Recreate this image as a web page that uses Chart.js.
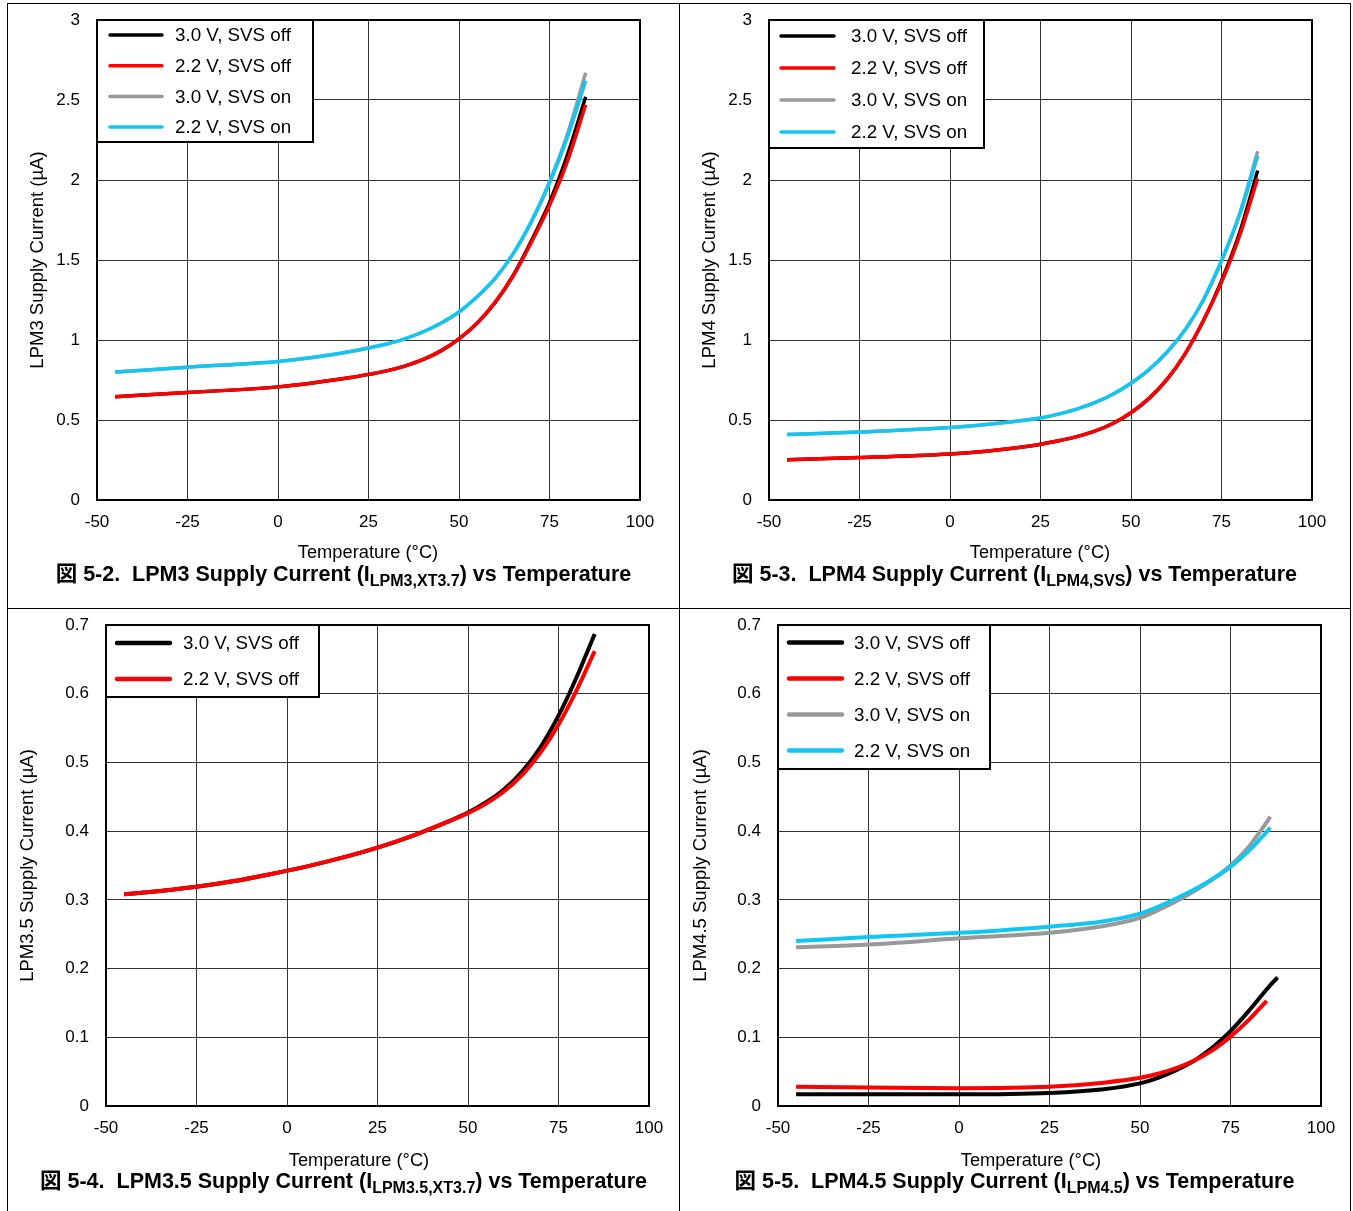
<!DOCTYPE html>
<html>
<head>
<meta charset="utf-8">
<script src="https://cdn.jsdelivr.net/npm/chart.js@4"></script>
<style>
  body { margin: 0; background: #fff; width: 1353px; height: 1211px; position: relative; overflow: hidden;
         font-family: "Liberation Sans", Arial, "Noto Sans CJK JP", sans-serif; }
  .rule { position: absolute; background: #000; }
  canvas { position: absolute; }
  .xt { position: absolute; font-size: 18.3px; transform: translate(-50%, -50%); white-space: nowrap; color: #000; }
  .cap { position: absolute; text-align: center; font-weight: bold; font-size: 21.5px; white-space: nowrap; color: #000; }
  .cap sub { font-size: 16px; vertical-align: -5px; line-height: 0; }
</style>
</head>
<body>
<div class="rule" style="left:7px;top:3px;width:1344px;height:1px"></div>
<div class="rule" style="left:7px;top:608px;width:1344px;height:1px"></div>
<div class="rule" style="left:7px;top:3px;width:1px;height:1208px"></div>
<div class="rule" style="left:679px;top:3px;width:1px;height:1208px"></div>
<div class="rule" style="left:1350px;top:3px;width:1px;height:1208px"></div>

<canvas id="c1"></canvas>
<canvas id="c2"></canvas>
<canvas id="c3"></canvas>
<canvas id="c4"></canvas>

<div class="xt" style="left:368px;top:552px">Temperature (°C)</div>
<div class="xt" style="left:1040px;top:552px">Temperature (°C)</div>
<div class="xt" style="left:359px;top:1160px">Temperature (°C)</div>
<div class="xt" style="left:1031px;top:1160px">Temperature (°C)</div>

<div class="cap" style="left:8px;width:671px;top:556px">図 5-2.&nbsp; LPM3 Supply Current (I<sub>LPM3,XT3.7</sub>) vs Temperature</div>
<div class="cap" style="left:679px;width:671px;top:556px">図 5-3.&nbsp; LPM4 Supply Current (I<sub>LPM4,SVS</sub>) vs Temperature</div>
<div class="cap" style="left:8px;width:671px;top:1163px">図 5-4.&nbsp; LPM3.5 Supply Current (I<sub>LPM3.5,XT3.7</sub>) vs Temperature</div>
<div class="cap" style="left:679px;width:671px;top:1163px">図 5-5.&nbsp; LPM4.5 Supply Current (I<sub>LPM4.5</sub>) vs Temperature</div>

<script>
// ===== Data =====
const seriesNames = ['3.0 V, SVS off', '2.2 V, SVS off', '3.0 V, SVS on', '2.2 V, SVS on'];
const seriesColors = ['#000000', '#ff0000', '#999999', '#12c6f3'];

const xTicks = [-50, -25, 0, 25, 50, 75, 100];

// LPM3 (fig 5-2) and LPM4 (fig 5-3)
const temps = [-45, -25, 0, 10, 20, 25, 30, 35, 40, 45, 50, 55, 60, 65, 70, 75, 80, 85];
const lpm3Off30 = [0.645, 0.672, 0.707, 0.733, 0.765, 0.785, 0.807, 0.837, 0.877, 0.932, 1.007, 1.105, 1.235, 1.405, 1.62, 1.86, 2.16, 2.52];
const lpm3Off22 = [0.645, 0.672, 0.707, 0.733, 0.765, 0.785, 0.807, 0.837, 0.877, 0.932, 1.007, 1.105, 1.235, 1.40, 1.61, 1.84, 2.12, 2.47];
const lpm3On30  = [0.80, 0.83, 0.866, 0.892, 0.928, 0.95, 0.975, 1.007, 1.05, 1.105, 1.175, 1.27, 1.385, 1.54, 1.74, 1.99, 2.29, 2.67];
const lpm3On22  = [0.80, 0.83, 0.866, 0.892, 0.928, 0.95, 0.975, 1.007, 1.05, 1.105, 1.175, 1.27, 1.385, 1.54, 1.74, 1.98, 2.27, 2.62];

const lpm4Off30 = [0.252, 0.265, 0.288, 0.305, 0.331, 0.349, 0.370, 0.396, 0.430, 0.478, 0.545, 0.635, 0.755, 0.915, 1.12, 1.37, 1.67, 2.06];
const lpm4Off22 = [0.252, 0.265, 0.288, 0.305, 0.331, 0.349, 0.370, 0.396, 0.430, 0.478, 0.545, 0.635, 0.755, 0.915, 1.12, 1.36, 1.65, 2.01];
const lpm4On30  = [0.41, 0.425, 0.453, 0.472, 0.497, 0.513, 0.537, 0.568, 0.608, 0.661, 0.73, 0.815, 0.925, 1.065, 1.25, 1.495, 1.79, 2.18];
const lpm4On22  = [0.41, 0.425, 0.453, 0.472, 0.497, 0.513, 0.537, 0.568, 0.608, 0.661, 0.73, 0.815, 0.925, 1.065, 1.25, 1.495, 1.78, 2.15];

// LPM3.5 (fig 5-4)
const temps35 = [-45, -35, -25, -15, -5, 5, 15, 25, 35, 45, 50, 55, 60, 65, 70, 75, 80, 85];
const lpm35Off30 = [0.308, 0.313, 0.319, 0.327, 0.337, 0.348, 0.361, 0.376, 0.394, 0.415, 0.427, 0.442, 0.461, 0.487, 0.522, 0.568, 0.624, 0.687];
const lpm35Off22 = [0.308, 0.313, 0.319, 0.327, 0.337, 0.348, 0.361, 0.376, 0.394, 0.415, 0.426, 0.440, 0.458, 0.482, 0.514, 0.555, 0.605, 0.662];

// LPM4.5 (fig 5-5)
const temps45 = [-45, -25, 0, 25, 40, 50, 55, 60, 65, 70, 75, 80, 85, 86, 88];
const lpm45Off30 = [0.017, 0.017, 0.017, 0.019, 0.0245, 0.033, 0.041, 0.052, 0.066, 0.085, 0.109, 0.138, 0.170, 0.176, 0.187];
const lpm45Off22 = [0.028, 0.027, 0.026, 0.028, 0.034, 0.041, 0.047, 0.055, 0.066, 0.081, 0.101, 0.125, 0.153, null, null];
const lpm45On30  = [0.231, 0.235, 0.244, 0.252, 0.262, 0.274, 0.285, 0.298, 0.313, 0.330, 0.350, 0.377, 0.413, 0.421, null];
const lpm45On22  = [0.240, 0.246, 0.252, 0.261, 0.269, 0.280, 0.290, 0.302, 0.315, 0.330, 0.348, 0.371, 0.399, 0.405, null];

// ===== Helpers =====
const FONT = "'Liberation Sans', Arial, sans-serif";

function pts(xs, ys) {
  return xs.map((x, i) => ys[i] == null ? null : { x, y: ys[i] }).filter(Boolean);
}

// frame around the plot area + boxed legend in the upper left corner
const framePlugin = {
  id: 'frame',
  beforeDatasetsDraw(chart) {
    const a = chart.chartArea, ctx = chart.ctx;
    ctx.save();
    ctx.strokeStyle = '#000';
    ctx.lineWidth = 2;
    ctx.strokeRect(a.left, a.top, a.right - a.left, a.bottom - a.top);
    ctx.restore();
  },
  afterDraw(chart, args, opts) {
    const a = chart.chartArea, ctx = chart.ctx;
    ctx.save();
    ctx.fillStyle = '#fff';
    ctx.fillRect(a.left, a.top, opts.w, opts.h);
    ctx.strokeStyle = '#000';
    ctx.lineWidth = 2;
    ctx.strokeRect(a.left, a.top, opts.w, opts.h);
    ctx.font = '18.8px ' + FONT;
    ctx.textBaseline = 'middle';
    chart.data.datasets.forEach((ds, i) => {
      const y = a.top + opts.y0 + i * opts.dy;
      ctx.strokeStyle = ds.borderColor;
      ctx.lineWidth = opts.lw;
      ctx.lineCap = 'round';
      ctx.beginPath();
      ctx.moveTo(a.left + opts.lx0, y);
      ctx.lineTo(a.left + opts.lx1, y);
      ctx.stroke();
      ctx.fillStyle = '#000';
      ctx.fillText(ds.label, a.left + opts.tx, y + 1);
    });
    ctx.restore();
  }
};

function makeChart(id, cfg) {
  const canvas = document.getElementById(id);
  const w = cfg.plot.r + 40 - cfg.cell.x;
  const h = cfg.plot.b + 45 - cfg.cell.y;
  canvas.width = w; canvas.height = h;
  canvas.style.left = cfg.cell.x + 'px';
  canvas.style.top = cfg.cell.y + 'px';
  canvas.style.width = w + 'px';
  canvas.style.height = h + 'px';

  const datasets = cfg.series.map((ys, i) => ({
    label: seriesNames[i],
    data: pts(cfg.temps, ys),
    borderColor: seriesColors[i],
    borderWidth: cfg.lineWidth,
    pointRadius: 0,
    fill: false,
    cubicInterpolationMode: 'monotone',
    order: 4 - i
  }));

  return new Chart(canvas, {
    type: 'line',
    data: { datasets },
    plugins: [framePlugin],
    options: {
      responsive: false,
      animation: false,
      devicePixelRatio: 1,
      layout: { padding: { left: 0, top: cfg.plot.t - cfg.cell.y, right: 40, bottom: 0 } },
      plugins: {
        legend: { display: false },
        tooltip: { enabled: false },
        frame: cfg.legend
      },
      scales: {
        x: {
          type: 'linear',
          min: -50, max: 100,
          afterBuildTicks: s => { s.ticks = xTicks.map(v => ({ value: v })); },
          afterFit: s => { s.height = 45; s.paddingLeft = 0; s.paddingRight = 0; },
          grid: { color: '#333', lineWidth: 1, drawTicks: false },
          border: { display: false },
          ticks: { color: '#000', padding: 12, font: { size: 17, family: FONT }, callback: v => String(v) }
        },
        y: {
          min: 0, max: cfg.yMax,
          afterBuildTicks: s => { s.ticks = cfg.yTicks.map(v => ({ value: v })); },
          afterFit: s => { s.width = cfg.plot.l - cfg.cell.x; s.paddingTop = 0; s.paddingBottom = 0; },
          grid: { color: '#333', lineWidth: 1, drawTicks: false },
          border: { display: false },
          ticks: { color: '#000', padding: 17, font: { size: 17, family: FONT }, callback: v => String(Number(v.toFixed(2))) },
          title: {
            display: true, text: cfg.yTitle, color: '#000',
            font: { size: 18.5, family: FONT },
            padding: { top: cfg.yTitleX - cfg.cell.x - 11.1, bottom: 0 }
          }
        }
      }
    }
  });
}

const yTicks3 = [0, 0.5, 1, 1.5, 2, 2.5, 3];
const yTicks07 = [0, 0.1, 0.2, 0.3, 0.4, 0.5, 0.6, 0.7];

makeChart('c1', {
  cell: { x: 8, y: 3 }, plot: { l: 97, t: 20, r: 640, b: 500 },
  temps, series: [lpm3Off30, lpm3Off22, lpm3On30, lpm3On22],
  yMax: 3, yTicks: yTicks3, yTitle: 'LPM3 Supply Current (µA)', yTitleX: 38, lineWidth: 3.5,
  legend: { w: 216, h: 122, y0: 15, dy: 30.7, lx0: 13, lx1: 65, tx: 78, lw: 3.5 }
});
makeChart('c2', {
  cell: { x: 679, y: 3 }, plot: { l: 769, t: 20, r: 1312, b: 500 },
  temps, series: [lpm4Off30, lpm4Off22, lpm4On30, lpm4On22],
  yMax: 3, yTicks: yTicks3, yTitle: 'LPM4 Supply Current (µA)', yTitleX: 710, lineWidth: 3.5,
  legend: { w: 215, h: 128, y0: 16, dy: 32, lx0: 12, lx1: 65, tx: 82, lw: 3.5 }
});
makeChart('c3', {
  cell: { x: 8, y: 608 }, plot: { l: 106, t: 625, r: 649, b: 1106 },
  temps: temps35, series: [lpm35Off30, lpm35Off22],
  yMax: 0.7, yTicks: yTicks07, yTitle: 'LPM3.5 Supply Current (µA)', yTitleX: 28, lineWidth: 4,
  legend: { w: 213, h: 72, y0: 18, dy: 36, lx0: 11, lx1: 64, tx: 77, lw: 4.5 }
});
makeChart('c4', {
  cell: { x: 679, y: 608 }, plot: { l: 778, t: 625, r: 1321, b: 1106 },
  temps: temps45, series: [lpm45Off30, lpm45Off22, lpm45On30, lpm45On22],
  yMax: 0.7, yTicks: yTicks07, yTitle: 'LPM4.5 Supply Current (µA)', yTitleX: 701, lineWidth: 4,
  legend: { w: 212, h: 144, y0: 17.5, dy: 36, lx0: 11, lx1: 64, tx: 76, lw: 4.5 }
});
</script>
</body>
</html>
